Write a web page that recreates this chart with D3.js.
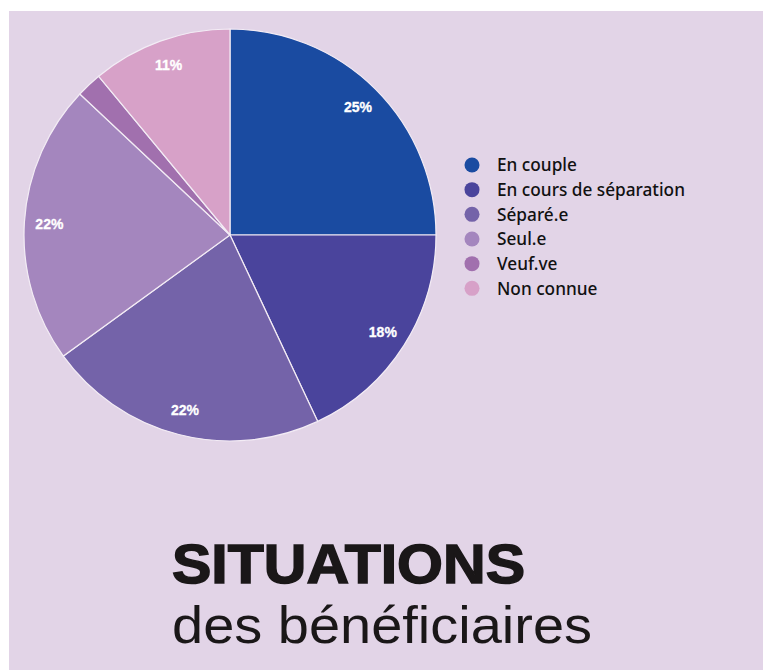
<!DOCTYPE html>
<html><head><meta charset="utf-8">
<script src="https://cdn.jsdelivr.net/npm/d3@7"></script>
<style>html,body{margin:0;padding:0;background:#fff;}svg{display:block;}</style>
</head><body>
<svg id="chart" width="763" height="670"></svg>
<script>
const categories = ["En couple", "En cours de séparation", "Séparé.e", "Seul.e", "Veuf.ve", "Non connue"];
const values = [25, 18, 22, 22, 2, 11];
const labels = ["25%", "18%", "22%", "22%", "", "11%"];
const colors = ["#1a4ba1", "#4a449c", "#7463a9", "#a486be", "#a170ae", "#d7a1c8"];

const svg = d3.select("#chart");
svg.append("rect").attr("x", 9).attr("y", 11).attr("width", 754).attr("height", 659).attr("fill", "#e2d4e7");

const cx = 230, cy = 235, R = 206;
const pie = d3.pie().sort(null).value(d => d.v);
const arcs = pie(categories.map((c, i) => ({c, v: values[i], l: labels[i], col: colors[i]})));
const arc = d3.arc().innerRadius(0).outerRadius(R);
const labelArc = d3.arc().innerRadius(181).outerRadius(181);

const g = svg.append("g").attr("transform", `translate(${cx},${cy})`);
g.selectAll("path").data(arcs).join("path")
  .attr("d", arc).attr("fill", d => d.data.col)
  .attr("stroke", "#f3ecf5").attr("stroke-width", 1.2);
g.selectAll("text").data(arcs).join("text")
  .attr("transform", d => `translate(${labelArc.centroid(d)})`)
  .attr("text-anchor", "middle").attr("dy", "0.35em")
  .attr("font-family", "Liberation Sans, Arial, sans-serif").attr("font-weight", "bold")
  .attr("font-size", 14).attr("fill", "#fff")
  .style("stroke", "#fff").style("stroke-width", 0.3)
  .text(d => d.data.l);

const legend = svg.append("g").attr("transform", "translate(472,165)");
const ly = d3.scaleBand().domain(categories).range([0, 148]);
categories.forEach((c, i) => {
  const y = ly(c);
  legend.append("circle").attr("cx", 0).attr("cy", y).attr("r", 7.5).attr("fill", colors[i]);
  legend.append("text").attr("x", 25).attr("y", y).attr("dy", "0.36em")
    .attr("font-family", "Noto Sans, Lato, sans-serif").attr("font-weight", 500)
    .attr("font-size", 17).attr("fill", "#111")
    .attr("textLength", c.length * 0).text(c);
});
legend.selectAll("text").attr("textLength", null);
const targetW = 188;
const refNode = legend.selectAll("text").nodes()[1];
const scale = targetW / refNode.getComputedTextLength();
legend.selectAll("text").attr("font-size", 17 * scale);

svg.append("text").attr("x", 172).attr("y", 583)
  .attr("font-family", "Liberation Sans, Arial, sans-serif").attr("font-weight", 900)
  .attr("font-size", 55).attr("fill", "#1a1718")
  .attr("textLength", 353).attr("lengthAdjust", "spacingAndGlyphs")
  .style("stroke", "#1a1718").style("stroke-width", 1.5)
  .text("SITUATIONS");
svg.append("text").attr("x", 172).attr("y", 643)
  .attr("font-family", "Liberation Sans, Arial, sans-serif").attr("font-weight", "normal")
  .attr("font-size", 52).attr("fill", "#1a1718")
  .attr("textLength", 420).attr("lengthAdjust", "spacingAndGlyphs")
  .text("des bénéficiaires");
</script>
</body></html>
